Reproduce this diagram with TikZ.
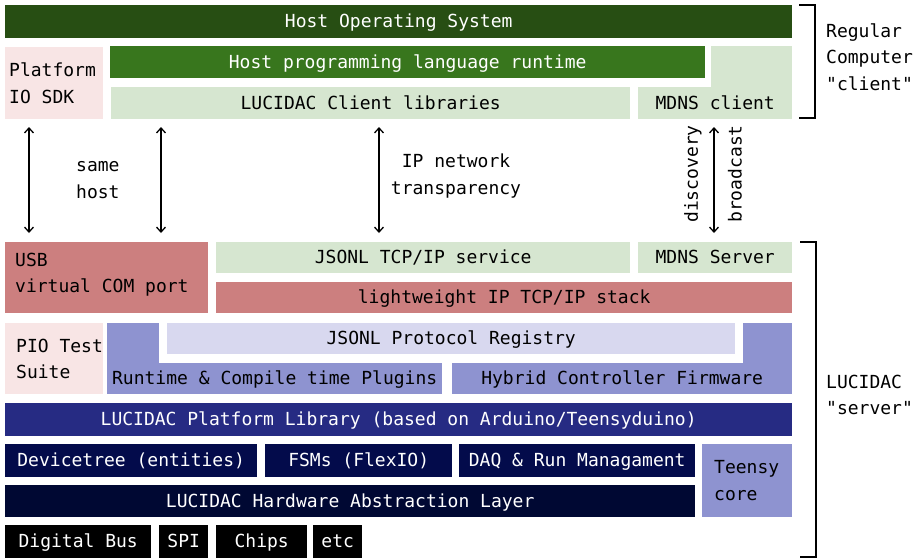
\documentclass[tikz,border=0pt]{standalone}
\usepackage{fontspec}
\newfontfamily\mono{DejaVu Sans Mono}
\usetikzlibrary{arrows.meta}

\definecolor{osgreen}{HTML}{274E13}
\definecolor{rtgreen}{HTML}{38761D}
\definecolor{lgreen}{HTML}{D6E6D0}
\definecolor{lpink}{HTML}{F8E5E5}
\definecolor{mred}{HTML}{CC7F7F}
\definecolor{mpurple}{HTML}{8E93D0}
\definecolor{lavender}{HTML}{D8D8EF}
\definecolor{pblue}{HTML}{262B83}
\definecolor{navy}{HTML}{030B4B}
\definecolor{dnavy}{HTML}{000833}

\tikzset{
  blk/.style={rectangle, draw=none, inner sep=0pt, anchor=north west,
    font=\mono\fontsize{18}{26.5}\selectfont, align=center, text=black,
    text height=14pt, text depth=1.5pt},
  light/.style={text=white},
  lbl/.style={font=\mono\fontsize{18}{26.5}\selectfont, inner sep=0pt, text=black},
  biarrow/.style={line width=1.3pt, {Straight Barb[length=5pt,width=9pt]}-{Straight Barb[length=5pt,width=9pt]}},
  brace/.style={line width=1.5pt},
}

\begin{document}
\begin{tikzpicture}[x=1pt, y=-1pt]
\useasboundingbox (0,0) rectangle (918,558);

% ---------- client side ----------
\node[blk, light, fill=osgreen, minimum width=787, minimum height=33] (hostos) at (5,5) {Host Operating System};
\node[blk, light, fill=rtgreen, minimum width=595, minimum height=32] (runtime) at (110,46) {Host programming language runtime};
\fill[lgreen] (711,46) rectangle (792,87);
\node[blk, fill=lgreen, minimum width=154, minimum height=32] (mdnsc) at (638,87) {MDNS client};
\node[blk, fill=lgreen, minimum width=519, minimum height=32] (clientlib) at (111,87) {LUCIDAC Client libraries};
\node[blk, fill=lpink, minimum width=98, minimum height=72] (sdk) at (5,47) {};
\node[lbl, align=left, anchor=west] (sdktxt) at ([xshift=4pt]sdk.west) {Platform\\IO SDK};

% ---------- server side ----------
\node[blk, fill=mred, minimum width=203, minimum height=71] (usb) at (5,242) {};
\node[lbl, align=left, anchor=west] (usbtxt) at ([xshift=10pt,yshift=3pt]usb.west) {USB\\virtual COM port};
\node[blk, fill=lgreen, minimum width=414, minimum height=31] (jsonltcp) at (216,242) {JSONL TCP/IP service};
\node[blk, fill=lgreen, minimum width=154, minimum height=31] (mdnss) at (638,242) {MDNS Server};
\node[blk, fill=mred, minimum width=576, minimum height=31] (lwip) at (216,282) {lightweight IP TCP/IP stack};

\node[blk, fill=lpink, minimum width=98, minimum height=71] (piotest) at (5,323) {};
\node[lbl, align=left, anchor=west] (piotxt) at ([xshift=11pt]piotest.west) {PIO Test\\Suite};
\fill[mpurple] (107,323) rectangle (159,363);
\node[blk, fill=mpurple, minimum width=335, minimum height=31] (plugins) at (107,363) {Runtime \& Compile time Plugins};
\node[blk, fill=lavender, minimum width=568, minimum height=31] (registry) at (167,323) {JSONL Protocol Registry};
\fill[mpurple] (743,323) rectangle (792,363);
\node[blk, fill=mpurple, minimum width=340, minimum height=31] (hybrid) at (452,363) {Hybrid Controller Firmware};

\node[blk, light, fill=pblue, minimum width=787, minimum height=33] (platlib) at (5,403) {LUCIDAC Platform Library (based on Arduino/Teensyduino)};
\node[blk, light, fill=navy, minimum width=252, minimum height=33] (devtree) at (5,444) {Devicetree (entities)};
\node[blk, light, fill=navy, minimum width=187, minimum height=33] (fsm) at (265,444) {FSMs (FlexIO)};
\node[blk, light, fill=navy, minimum width=236, minimum height=33] (daq) at (459,444) {DAQ \& Run Managament};
\node[blk, fill=mpurple, minimum width=90, minimum height=73] (teensy) at (702,444) {};
\node[lbl, align=left, anchor=west] (teensytxt) at ([xshift=12pt]teensy.west) {Teensy\\core};
\node[blk, light, fill=dnavy, minimum width=690, minimum height=32] (hal) at (5,485) {LUCIDAC Hardware Abstraction Layer};

\node[blk, light, fill=black, minimum width=146, minimum height=33] (bus) at (5,525) {Digital Bus};
\node[blk, light, fill=black, minimum width=49, minimum height=33] (spi) at (159,525) {SPI};
\node[blk, light, fill=black, minimum width=91, minimum height=33] (chips) at (216,525) {Chips};
\node[blk, light, fill=black, minimum width=49, minimum height=33] (etc) at (313,525) {etc};

% ---------- connections between client and server ----------
\coordinate (a1t) at (29,127);  \coordinate (a1b) at (29,233);
\coordinate (a2t) at (161,127); \coordinate (a2b) at (161,233);
\coordinate (a3t) at (379,127); \coordinate (a3b) at (379,233);
\coordinate (a4t) at (714,127); \coordinate (a4b) at (714,233);
\draw[biarrow] (a1t) -- (a1b);
\draw[biarrow] (a2t) -- (a2b);
\draw[biarrow] (a3t) -- (a3b);
\draw[biarrow] (a4t) -- (a4b);

\node[lbl, align=left, anchor=west] (samehost) at (76,180) {same\\host};
\node[lbl, align=center] (ipnet) at (456,176) {IP network\\transparency};
\node[lbl, rotate=90] (disc) at (693,174) {discovery};
\node[lbl, rotate=90] (bcast) at (735,174) {broadcast};

% ---------- brackets ----------
\draw[brace] (799,5) -- (815,5) -- (815,118) -- (799,118);
\draw[brace] (800,242) -- (816,242) -- (816,557) -- (800,557);
\node[lbl, align=left, anchor=west] (clientlbl) at (826,57) {Regular\\Computer\\"client"};
\node[lbl, align=left, anchor=west] (serverlbl) at (826,395) {LUCIDAC\\"server"};
\end{tikzpicture}
\end{document}
